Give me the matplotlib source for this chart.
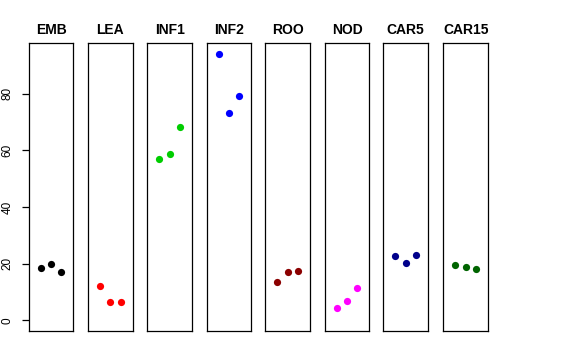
import matplotlib
matplotlib.use("Agg")
import matplotlib.pyplot as plt

plt.rcParams['font.family'] = ['Liberation Sans', 'DejaVu Sans']

categories = ["EMB", "LEA", "INF1", "INF2", "ROO", "NOD", "CAR5", "CAR15"]
colors = ["#000000", "#FF0000", "#00CD00", "#0000FF", "#8B0000", "#FF00FF", "#00008B", "#006400"]
replicate = [1, 2, 3]
emb = [18.4, 19.8, 17.1]
lea = [12.2, 6.5, 6.5]
inf1 = [57.1, 58.8, 68.3]
inf2 = [94.0, 73.1, 79.3]
roo = [13.4, 17.0, 17.3]
nod = [4.4, 6.9, 11.5]
car5 = [22.7, 20.2, 23.2]
car15 = [19.6, 18.8, 18.0]
series = [emb, lea, inf1, inf2, roo, nod, car5, car15]
yticks = [0, 20, 40, 60, 80]

W, H = 576, 360
fig = plt.figure(figsize=(W / 100, H / 100), dpi=100)

lefts = [28.7, 88.0, 147.3, 206.7, 265.3, 324.7, 383.3, 443.3]
pw = 44.7
top_px, bot_px = 43.3, 331.0
ymin_d, ymax_d = 0.0, 94.0
pad = 0.04 * (ymax_d - ymin_d)

for i, (name, vals, col) in enumerate(zip(categories, series, colors)):
    ax = fig.add_axes([lefts[i] / W, (H - bot_px) / H, pw / W, (bot_px - top_px) / H])
    ax.plot(replicate, vals, 'o', color=col, ms=5.2, mec='none')
    ax.set_xlim(-0.16, 4.16)
    ax.set_ylim(ymin_d - pad, ymax_d + pad)
    ax.set_xticks([])
    for s in ax.spines.values():
        s.set_linewidth(0.9)
        s.set_color('black')
    ax.set_title(name, fontsize=10, fontweight='bold', pad=7)
    if i == 0:
        ax.set_yticks(yticks)
        ax.set_yticklabels([str(t) for t in yticks], rotation=90, va='center', fontsize=8.5)
        ax.tick_params(axis='y', length=5, width=0.9, pad=6)
    else:
        ax.set_yticks([])

fig.savefig("out.png", dpi=100)
